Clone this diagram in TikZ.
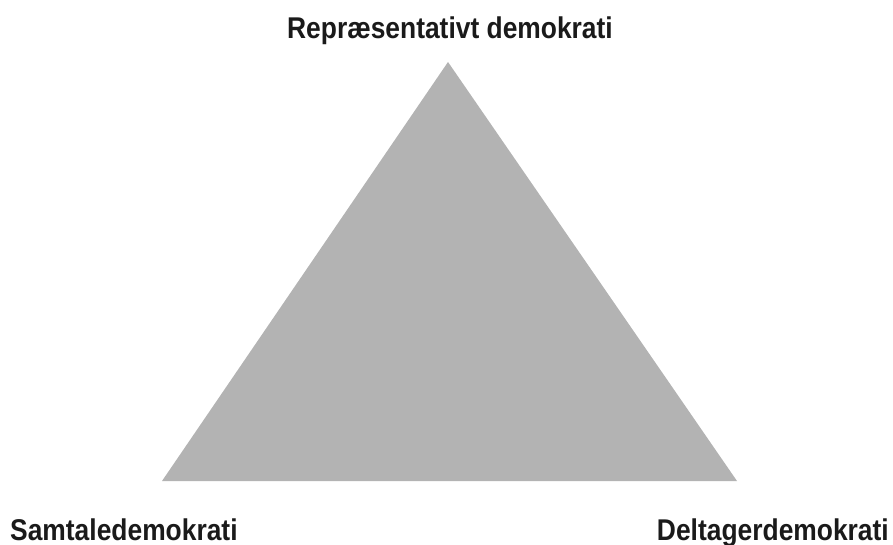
\documentclass[tikz,border=0pt]{standalone}
\usepackage{fontspec}
\newfontfamily\condfont[FakeStretch=0.88]{Liberation Sans}
\definecolor{trigray}{HTML}{B3B3B3}
\definecolor{labelcol}{HTML}{1A1A1A}
\begin{document}
\begin{tikzpicture}[x=1pt,y=-1pt,
  lab/.style={inner sep=0pt, text=labelcol, font=\condfont\bfseries\fontsize{30}{34}\selectfont}]
\useasboundingbox (0,0) rectangle (893,545);
\coordinate (top) at (448,62);
\coordinate (bl) at (162,481);
\coordinate (br) at (737,481);
\fill[trigray] (top) -- (bl) -- (br) -- cycle;
\node[lab, anchor=base] (rep) at (450,39) {Repræsentativt demokrati};
\node[lab, anchor=base west] (sam) at (10,540) {Samtaledemokrati};
\node[lab, anchor=base east] (del) at (889,540) {Deltagerdemokrati};
\end{tikzpicture}
\end{document}
